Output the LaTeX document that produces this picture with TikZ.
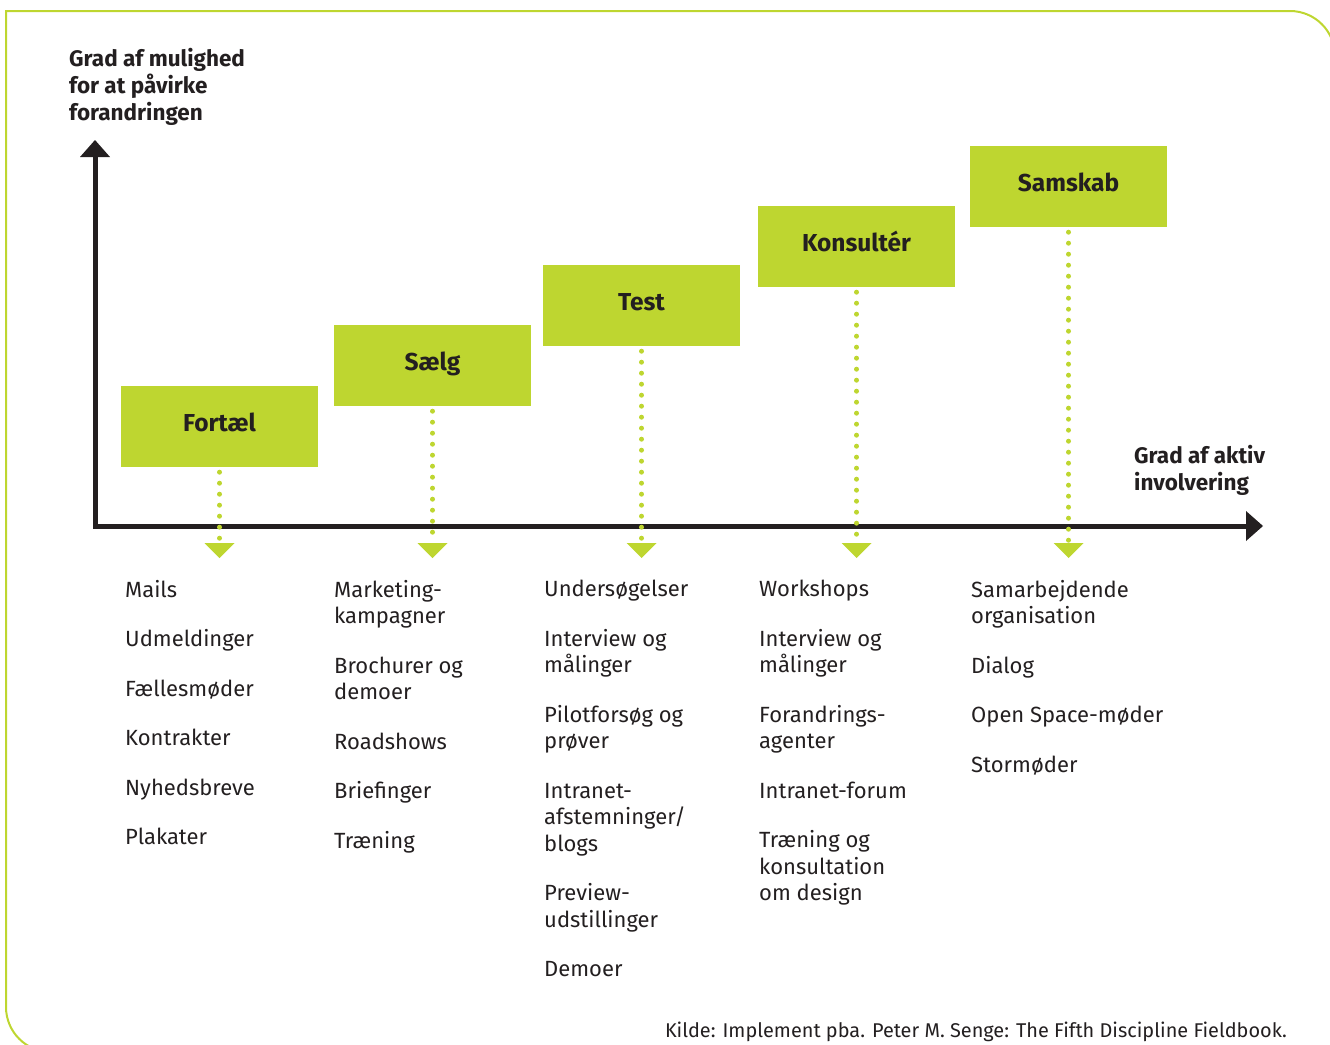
\documentclass[tikz,border=0pt]{standalone}
\usepackage{fontspec}
\setmainfont{Fira Sans}
\usetikzlibrary{arrows.meta}
\definecolor{lime}{RGB}{190,214,48}
\definecolor{ink}{RGB}{35,31,32}

\tikzset{
    stage/.style={fill=lime, text=ink, inner sep=0pt, minimum width=197pt, minimum height=81pt, text height=18pt, text depth=8pt, font=\fontsize{24.5}{28}\selectfont\bfseries},
    items/.style={anchor=north west, align=left, inner sep=0pt, text=ink, font=\fontsize{22}{26.5}\selectfont},
    axislabel/.style={anchor=north west, align=left, inner sep=0pt, text=ink, font=\fontsize{22.5}{26.8}\selectfont\bfseries},
    link/.style={draw=lime, line width=5pt, line cap=round, dash pattern=on 0pt off 11pt, shorten <=5pt, -{Triangle[length=15pt,width=30pt,line width=0pt]}},
    axis/.style={draw=ink, line width=5pt, {Triangle[length=17pt,width=30pt,line width=0pt]}-{Triangle[length=17pt,width=30pt,line width=0pt]}},
    frame/.style={draw=lime, line width=2pt, line cap=rect, rounded corners=45pt}
}

\begin{document}
\begin{tikzpicture}[x=1pt,y=-1pt]
    \useasboundingbox (0,0) rectangle (1330,1044);
    \clip (0,0) rectangle (1330,1044);

    % frame
    \draw[frame] (6,11) -- (1335,11) -- (1335,1100);
    \draw[frame] (6,11) -- (6,1052) -- (1200,1052);

    % axes
    \coordinate (O) at (95,526);
    \coordinate (Ytip) at (95,140);
    \coordinate (Xtip) at (1263,526);
    \draw[axis] (Ytip) -- (O) -- (Xtip);

    \node[axislabel] (ylab) at (69,48) {Grad af mulighed\\for at påvirke\\forandringen};
    \node[axislabel] (xlab) at (1134,445) {Grad af aktiv\\involvering};

    % stages
    \node[stage] (fortael) at (219.5,426.5) {Fortæl};
    \node[stage] (saelg) at (432.5,365.5) {Sælg};
    \node[stage] (test) at (641.5,305.5) {Test};
    \node[stage] (konsulter) at (856.5,246.5) {Konsultér};
    \node[stage] (samskab) at (1068.5,186.5) {Samskab};

    \coordinate (t1) at (219.5,558);
    \coordinate (t2) at (432.5,558);
    \coordinate (t3) at (641.5,558);
    \coordinate (t4) at (856.5,558);
    \coordinate (t5) at (1068.5,558);

    \draw[link] (fortael) -- (t1);
    \draw[link] (saelg) -- (t2);
    \draw[link] (test) -- (t3);
    \draw[link] (konsulter) -- (t4);
    \draw[link] (samskab) -- (t5);

    % lists
    \node[items] (l1) at (125,580) {Mails\\[23pt]Udmeldinger\\[23pt]Fællesmøder\\[23pt]Kontrakter\\[23pt]Nyhedsbreve\\[23pt]Plakater};
    \node[items] (l2) at (334,580) {Marketing-\\kampagner\\[23pt]Brochurer og\\demoer\\[23pt]Roadshows\\[23pt]Briefinger\\[23pt]Træning};
    \node[items] (l3) at (544,580) {Undersøgelser\\[23pt]Interview og\\målinger\\[23pt]Pilotforsøg og\\prøver\\[23pt]Intranet-\\afstemninger/\\blogs\\[23pt]Preview-\\udstillinger\\[23pt]Demoer};
    \node[items] (l4) at (759,580) {Workshops\\[23pt]Interview og\\målinger\\[23pt]Forandrings-\\agenter\\[23pt]Intranet-forum\\[23pt]Træning og\\konsultation\\om design};
    \node[items] (l5) at (971,580) {Samarbejdende\\organisation\\[23pt]Dialog\\[23pt]Open Space-møder\\[23pt]Stormøder};

    \node[anchor=base east, inner sep=0pt, text=ink, font=\fontsize{19.9}{22}\selectfont] (kilde) at (1287,1037) {Kilde: Implement pba. Peter M. Senge: The Fifth Discipline Fieldbook.};
\end{tikzpicture}
\end{document}
